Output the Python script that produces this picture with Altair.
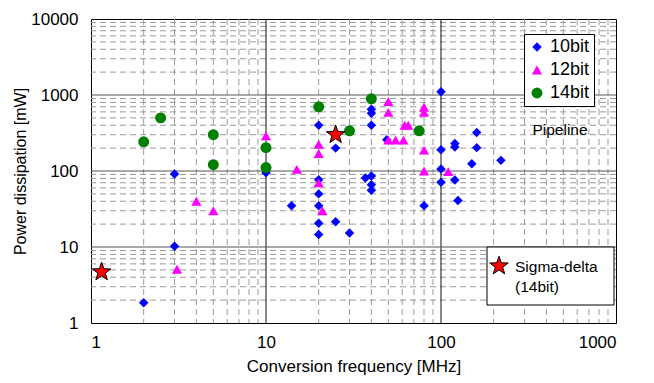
import altair as alt
import pandas as pd

# ---- data ----
bits = ["10bit", "12bit", "14bit"]
colors = ["#0000ff", "#ff00ff", "#008000"]
shapes = ["diamond", "triangle-up", "circle"]

f10 = [2, 3, 3, 10, 14, 20, 20, 20, 20, 20, 20, 25, 25, 30, 37, 40, 40, 40, 40, 40, 40,
       49, 80, 100, 100, 100, 100, 120, 120, 120, 125, 150, 160, 160, 220]
p10 = [1.85, 91, 10.2, 95, 35, 400, 77, 50, 35, 20.5, 14.6, 200, 21.5, 15.3, 81, 650, 575,
       400, 86, 66, 56, 258, 35, 1100, 190, 106, 71, 230, 207, 76, 41, 125, 320, 203, 138]

f12 = [3.1, 4, 5, 10, 15, 20, 20, 20, 21, 50, 50, 50, 55, 61, 62, 65, 80, 80, 80, 80, 110]
p12 = [5.1, 40, 30, 290, 105, 225, 170, 70, 30, 820, 590, 255, 255, 255, 400, 400, 690,
       590, 188, 100, 98]

f14 = [2, 2.5, 5, 5, 10, 10, 20, 30, 40, 75]
p14 = [242, 500, 300, 121, 203, 111, 700, 338, 890, 338]

f_sd = [1.15, 25]
p_sd = [4.7, 300]

x_ticks = [1, 10, 100, 1000]
y_ticks = [1, 10, 100, 1000, 10000]
x_minor = [d * m for d in [1, 10, 100] for m in range(2, 10)]
y_minor = [d * m for d in [1, 10, 100, 1000] for m in range(2, 10)]
x_major = [10, 100]
y_major = [10, 100, 1000]

sd_lines = ["Sigma-delta", "(14bit)"]
pipeline_label = "Pipeline"
x_title = "Conversion frequency [MHz]"
y_title = "Power dissipation [mW]"

STAR = ("M0,-1 L0.235,-0.324 L0.951,-0.309 L0.380,0.124 L0.588,0.809 L0,0.4 "
        "L-0.588,0.809 L-0.380,0.124 L-0.951,-0.309 L-0.235,-0.324 Z")

# ---- tables ----
pts = pd.DataFrame({
    "f": f10 + f12 + f14,
    "p": p10 + p12 + p14,
    "bits": ["10bit"] * len(f10) + ["12bit"] * len(f12) + ["14bit"] * len(f14),
})
sd = pd.DataFrame({"f": f_sd, "p": p_sd})

xs = alt.Scale(type="log", domain=[1, 1000], nice=False)
ys = alt.Scale(type="log", domain=[1, 10000], nice=False)
x_axis = alt.Axis(values=x_ticks, format="d", grid=False)
y_axis = alt.Axis(values=y_ticks, format="d", grid=False)

AX_FONT = "Liberation Sans"
LG_FONT = "Liberation Sans"

TOP = 11
H = 304


def X(field):
    return alt.X(field, scale=xs, axis=x_axis, title=x_title)


def Y(field):
    return alt.Y(field, scale=ys, axis=y_axis, title=y_title)


vminor = alt.Chart(pd.DataFrame({"v": x_minor})).mark_rule(
    color="#9a9a9a", strokeWidth=1, strokeDash=[6, 4]).encode(x=X("v:Q"))
hminor = alt.Chart(pd.DataFrame({"v": y_minor})).mark_rule(
    color="#9a9a9a", strokeWidth=1, strokeDash=[6, 4]).encode(y=Y("v:Q"))
vmajor = alt.Chart(pd.DataFrame({"v": x_major})).mark_rule(
    color="#111111", strokeWidth=1).encode(x=X("v:Q"))
hmajor = alt.Chart(pd.DataFrame({"v": y_major})).mark_rule(
    color="#555555", strokeWidth=1).encode(y=Y("v:Q"))

legend = alt.Legend(
    orient="none", legendX=433, legendY=34 - 8 - TOP, title=None,
    strokeColor="black", fillColor="white", padding=4, rowPadding=5,
    labelFont=LG_FONT, labelFontSize=18, labelColor="black", labelOffset=4,
    symbolSize=100, symbolStrokeWidth=0, symbolOpacity=1, cornerRadius=0,
)

points = alt.Chart(pts).mark_point(filled=True, opacity=1, strokeWidth=0).encode(
    x=X("f:Q"),
    y=Y("p:Q"),
    color=alt.Color("bits:N", scale=alt.Scale(domain=bits, range=colors), legend=legend),
    shape=alt.Shape("bits:N", scale=alt.Scale(domain=bits, range=shapes), legend=legend),
    size=alt.Size("bits:N", scale=alt.Scale(domain=bits, range=[90, 120, 110]), legend=None),
)

stars = alt.Chart(sd).mark_point(
    shape=STAR, filled=True, fill="#ff0000", stroke="black", strokeWidth=1,
    size=380, opacity=1).encode(x=X("f:Q"), y=Y("p:Q"))

oy = 8 + TOP  # page y of plot top
one = pd.DataFrame({"k": [0]})
sd_box = alt.Chart(one).mark_rect(fill="white", stroke="black", strokeWidth=1).encode(
    x=alt.value(396), x2=alt.value(523), y=alt.value(247 - oy), y2=alt.value(305 - oy))
sd_star = alt.Chart(one).mark_point(
    shape=STAR, filled=True, fill="#ff0000", stroke="black", strokeWidth=1,
    size=380, opacity=1).encode(x=alt.value(408), y=alt.value(266 - oy))
sd_t1 = alt.Chart(one).mark_text(
    align="left", baseline="middle", font=LG_FONT, fontSize=15.5, color="black",
    text=sd_lines[0]).encode(x=alt.value(424), y=alt.value(267 - oy))
sd_t2 = alt.Chart(one).mark_text(
    align="left", baseline="middle", font=LG_FONT, fontSize=15.5, color="black",
    text=sd_lines[1]).encode(x=alt.value(424), y=alt.value(287 - oy))
pipe = alt.Chart(one).mark_text(
    align="center", baseline="middle", font=LG_FONT, fontSize=15.5, color="black",
    text=pipeline_label).encode(x=alt.value(469), y=alt.value(130 - oy))

chart = alt.layer(
    vminor, hminor, vmajor, hmajor, points, stars, pipe, sd_box, sd_star, sd_t1, sd_t2
).properties(
    width=525, height=H,
    autosize=alt.AutoSizeParams(type="none"),
    padding={"left": 83, "right": 30, "top": TOP, "bottom": 367 - TOP - H},
).configure_view(
    stroke="black", strokeWidth=1
).configure_axis(
    domain=False, ticks=False, tickSize=0, grid=False,
    labelFont=AX_FONT, labelFontSize=17, labelColor="black",
    titleFont=AX_FONT, titleFontSize=17, titleFontWeight="normal", titleColor="black",
).configure_axisX(
    labelPadding=11, titlePadding=8
).configure_axisY(
    labelPadding=13, titlePadding=2, titleFontSize=16
)

chart.save("out.html", embed_options={"renderer": "svg", "actions": False})
